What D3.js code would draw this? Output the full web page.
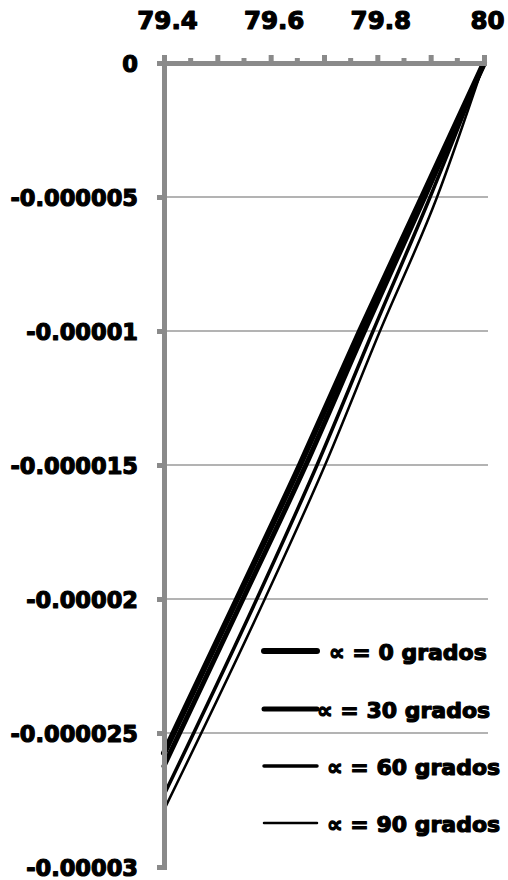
<!DOCTYPE html>
<html>
<head>
<meta charset="utf-8">
<script src="https://cdn.jsdelivr.net/npm/d3@7"></script>
<style>
  body { margin: 0; background: #fff; }
  text { font-family: "DejaVu Sans", "Liberation Sans", sans-serif; font-weight: bold; fill: #000;
         stroke: #000; stroke-width: 1.2px; stroke-linejoin: round; }
</style>
</head>
<body>
<svg id="chart" width="508" height="880"></svg>
<script>
// Horizontal axis (drawn on top)
const xDomain = [79.4, 80];
const xMajorTicks = [79.4, 79.5, 79.6, 79.7, 79.8, 79.9, 80];
const xMinorTicks = [79.45, 79.55, 79.65, 79.75, 79.85, 79.95];
const xLabelTicks = [79.4, 79.6, 79.8, 80];
const xLabels = ["79.4", "79.6", "79.8", "80"];

// Vertical axis
const yDomain = [-0.00003, 0];
const yTicks = [0, -0.000005, -0.00001, -0.000015, -0.00002, -0.000025, -0.00003];
const yLabels = ["0", "-0.000005", "-0.00001", "-0.000015", "-0.00002", "-0.000025", "-0.00003"];

// Series: one curve per angle (position x, displacement y)
const seriesNames = ["\u221D = 0 grados", "\u221D = 30 grados", "\u221D = 60 grados", "\u221D = 90 grados"];
const alpha0X  = [79.4, 79.537, 79.655, 79.7675, 79.884, 80];
const alpha0Y  = [-0.00002575, -0.00002, -0.000015, -0.00001, -0.000005, 0];
const alpha30X = [79.4, 79.548, 79.666, 79.776, 79.889, 80];
const alpha30Y = [-0.00002623, -0.00002, -0.000015, -0.00001, -0.000005, 0];
const alpha60X = [79.4, 79.574, 79.687, 79.792, 79.899, 80];
const alpha60Y = [-0.00002731, -0.00002, -0.000015, -0.00001, -0.000005, 0];
const alpha90X = [79.4, 79.589, 79.702, 79.805, 79.912, 80];
const alpha90Y = [-0.00002787, -0.00002, -0.000015, -0.00001, -0.000005, 0];

const seriesX = [alpha0X, alpha30X, alpha60X, alpha90X];
const seriesY = [alpha0Y, alpha30Y, alpha60Y, alpha90Y];
const lineWidths = [6, 5, 3.5, 2.5];

const svg = d3.select("#chart");
const plotLeft = 164, plotRight = 484, plotTop = 63, plotBottom = 867;

const x = d3.scaleLinear().domain(xDomain).range([plotLeft, plotRight]);
const y = d3.scaleLinear().domain(yDomain).range([plotBottom, plotTop]);

const axisColor = "#8a8a8a";
const gridColor = "#9a9a9a";

// gridlines
svg.append("g").selectAll("line")
  .data(yTicks.filter(v => v !== 0 && v !== -0.00003))
  .join("line")
  .attr("x1", plotLeft).attr("x2", plotRight + 4)
  .attr("y1", d => y(d)).attr("y2", d => y(d))
  .attr("stroke", gridColor).attr("stroke-width", 1.6);

// series curves
const curve = d3.line().x(d => x(d[0])).y(d => y(d[1])).curve(d3.curveMonotoneX);
svg.append("g").selectAll("path")
  .data(seriesX.map((xs, i) => ({ i, pts: xs.map((xv, k) => [xv, seriesY[i][k]]) })))
  .join("path")
  .attr("d", d => curve(d.pts))
  .attr("fill", "none")
  .attr("stroke", "#000")
  .attr("stroke-width", d => lineWidths[d.i])
  .attr("stroke-linecap", "round");

// left axis
const yAxis = d3.axisLeft(y).tickValues(yTicks).tickSize(7).tickFormat((d, i) => yLabels[i]).tickPadding(19);
const gy = svg.append("g").attr("transform", `translate(${plotLeft},0)`).call(yAxis);
gy.select(".domain").attr("stroke", axisColor).attr("stroke-width", 5);
gy.selectAll(".tick line").attr("stroke", axisColor).attr("stroke-width", 5);
gy.selectAll(".tick text").attr("font-size", 22.5).attr("dy", "0.36em")
  .attr("font-family", "DejaVu Sans").attr("font-weight", "bold").attr("fill", "#000");

// top axis
const xAxis = d3.axisTop(x).tickValues(xMajorTicks).tickSize(8)
  .tickFormat(d => { const k = xLabelTicks.indexOf(d); return k >= 0 ? xLabels[k] : ""; })
  .tickPadding(26);
const gx = svg.append("g").attr("transform", `translate(0,${plotTop})`).call(xAxis);
gx.select(".domain").attr("stroke", axisColor).attr("stroke-width", 5);
gx.selectAll(".tick line").attr("stroke", axisColor).attr("stroke-width", 5);
gx.selectAll(".tick text").attr("font-size", 24.5).attr("dx", 3)
  .attr("font-family", "DejaVu Sans").attr("font-weight", "bold").attr("fill", "#000");
gx.append("g").selectAll("line").data(xMinorTicks).join("line")
  .attr("x1", d => x(d)).attr("x2", d => x(d)).attr("y1", 0).attr("y2", -5)
  .attr("stroke", axisColor).attr("stroke-width", 5);

// legend
const legendRows = [651, 709, 766, 823];
const legendTextX = [329, 317, 327, 327];
const lg = svg.append("g");
seriesNames.forEach((name, i) => {
  lg.append("line")
    .attr("x1", 264).attr("x2", 317)
    .attr("y1", legendRows[i]).attr("y2", legendRows[i])
    .attr("stroke", "#000").attr("stroke-width", lineWidths[i])
    .attr("stroke-linecap", "round");
  lg.append("text")
    .attr("x", legendTextX[i]).attr("y", legendRows[i] + 8.5)
    .attr("font-size", 22)
    .text(name);
});
</script>
</body>
</html>
